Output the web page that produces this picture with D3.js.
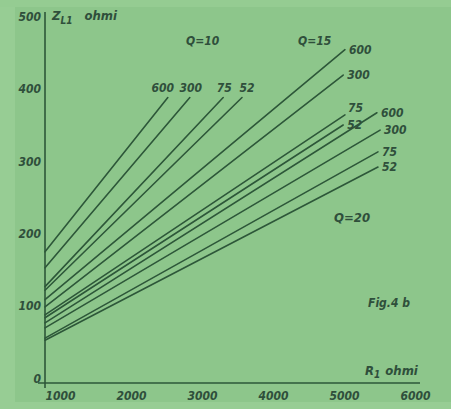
<!DOCTYPE html>
<html>
<head>
<meta charset="utf-8">
<script src="https://cdn.jsdelivr.net/npm/d3@7"></script>
<style>
  html, body { margin: 0; padding: 0; background: #8dc68b; }
  svg { display: block; }
  text { font-family: "DejaVu Sans Condensed", "DejaVu Sans", sans-serif; font-style: italic; fill: #2f4f3b; }
</style>
</head>
<body>
<svg id="chart" width="451" height="409"></svg>
<script>
// Matching-section chart: Z_L1 against R1 for three Q values and four line impedances
const qValues = [10, 15, 20];
const impedances = [600, 300, 75, 52];

// each line runs from R1 = 1000 at the Z axis up to its end point
const startR = [1000, 1000, 1000, 1000, 1000, 1000, 1000, 1000, 1000, 1000, 1000, 1000];
const startZ = [181, 159, 133, 128, 115, 105, 94, 90, 83, 76, 62, 59];
const endR   = [2730, 3040, 3510, 3775, 5225, 5200, 5225, 5200, 5675, 5720, 5690, 5690];
const endZ   = [394, 394, 394, 394, 460, 425, 370, 356, 373, 349, 319, 298];
const lineQ  = [10, 10, 10, 10, 15, 15, 15, 15, 20, 20, 20, 20];
const lineZc = [600, 300, 75, 52, 600, 300, 75, 52, 600, 300, 75, 52];

const xTicks = [1000, 2000, 3000, 4000, 5000, 6000];
const yTicks = [0, 100, 200, 300, 400, 500];

const svg = d3.select("#chart");
const W = 451, H = 409;

// paper tone with lighter margins
svg.append("rect").attr("width", W).attr("height", H).attr("fill", "#8dc68b");
svg.append("rect").attr("x", 0).attr("y", 0).attr("width", 15).attr("height", H).attr("fill", "#97cd94");
svg.append("rect").attr("x", 0).attr("y", 0).attr("width", W).attr("height", 7).attr("fill", "#95cc92");
svg.append("rect").attr("x", 0).attr("y", 402).attr("width", W).attr("height", 7).attr("fill", "#97cd94");

const x = d3.scaleLinear().domain([1000, 6282]).range([45, 420]);
const y = d3.scaleLinear().domain([0, 512]).range([383, 12]);

const ink = "#2d5739";

// axes
svg.append("line").attr("x1", x(1000)).attr("x2", x(1000))
  .attr("y1", y(512)).attr("y2", y(0) + 5)
  .attr("stroke", ink).attr("stroke-width", 1.6);
svg.append("line").attr("x1", x(1000) - 7).attr("x2", x(6282))
  .attr("y1", y(0)).attr("y2", y(0))
  .attr("stroke", ink).attr("stroke-width", 1.6);

const yAxis = d3.axisLeft(y).tickValues(yTicks).tickSize(0).tickFormat(d3.format("d"));
const gy = svg.append("g").attr("transform", `translate(${x(1000) - 4},0)`).call(yAxis);
gy.select(".domain").remove();
gy.selectAll("text").attr("dy", "-0.05em").attr("x", 0)
  .style("font-size", "12px").style("font-weight", "600").attr("fill", "#2f4f3b");

const xAxis = d3.axisBottom(x).tickValues(xTicks).tickSize(0).tickFormat(d3.format("d"));
const gx = svg.append("g").attr("transform", `translate(0,${y(0)})`).call(xAxis);
gx.select(".domain").remove();
gx.selectAll("text").attr("text-anchor", "start").attr("y", 17).attr("dy", 0)
  .style("font-size", "12px").style("font-weight", "600").attr("fill", "#2f4f3b");

// the twelve lines
const lines = startR.map((r, i) => ({ r0: r, z0: startZ[i], r1: endR[i], z1: endZ[i], q: lineQ[i], zc: lineZc[i] }));
svg.append("g").selectAll("line").data(lines).join("line")
  .attr("x1", d => x(d.r0)).attr("y1", d => y(d.z0))
  .attr("x2", d => x(d.r1)).attr("y2", d => y(d.z1))
  .attr("stroke", ink).attr("stroke-width", 1.6).attr("stroke-linecap", "round");

// impedance labels at the ends of the lines
const q10Shift = { 600: -5, 300: 1, 75: 1, 52: 5 };
const lab = svg.append("g").style("font-size", "12px").style("font-weight", "600");
lines.forEach(d => {
  const t = lab.append("text").text(d.zc);
  if (d.q === 10) {
    t.attr("x", x(d.r1) + q10Shift[d.zc]).attr("y", y(d.z1) - 6).attr("text-anchor", "middle");
  } else if (d.q === 15 && d.zc === 75) {
    t.attr("x", x(d.r1) + 3).attr("y", y(d.z1) - 3);
  } else {
    t.attr("x", x(d.r1) + 4).attr("y", y(d.z1) + 4);
  }
});

// group captions
const cap = svg.append("g").style("font-size", "12px").style("font-weight", "600");
cap.append("text").attr("x", 186).attr("y", 45).text("Q=10");
cap.append("text").attr("x", 298).attr("y", 45).text("Q=15");
cap.append("text").attr("x", 334).attr("y", 222).style("font-size", "13px").text("Q=20");
cap.append("text").attr("x", 368).attr("y", 307).text("Fig.4 b");

// axis titles
const zt = svg.append("text").attr("x", 52).attr("y", 20).style("font-size", "13px").style("font-weight", "600");
zt.append("tspan").text("Z");
zt.append("tspan").attr("dy", 4).style("font-size", "10px").text("L1");
zt.append("tspan").attr("dy", -4).attr("dx", 12).text("ohmi");

const rt = svg.append("text").attr("x", 365).attr("y", 375).style("font-size", "13px").style("font-weight", "600");
rt.append("tspan").text("R");
rt.append("tspan").attr("dy", 3).style("font-size", "10px").text("1");
rt.append("tspan").attr("dy", -3).attr("dx", 5).text("ohmi");
</script>
</body>
</html>
